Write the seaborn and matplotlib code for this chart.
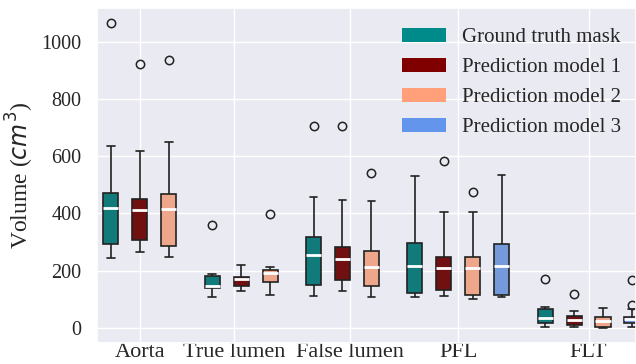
import numpy as np
import pandas as pd
import seaborn as sns
import matplotlib.pyplot as plt
from matplotlib.patches import Patch

# ---------------- data ----------------
regions = ["Aorta", "True lumen", "False lumen", "PFL", "FLT"]
models = ["Ground truth mask", "Prediction model 1", "Prediction model 2", "Prediction model 3"]
colors = ["#008B8B", "#800000", "#FFA07A", "#6495ED"]

# volumes (cm^3) per region, one list per model
aorta_gt = [244, 270, 293, 360, 418, 440, 471, 634, 1064]
aorta_m1 = [264, 285, 307, 370, 411, 430, 449, 618, 922]
aorta_m2 = [247, 265, 287, 350, 414, 440, 466, 648, 936]

true_gt = [109, 125, 139, 143, 146, 165, 180, 188, 359]
true_m1 = [127, 138, 147, 160, 170, 175, 179, 200, 220]
true_m2 = [116, 140, 159, 175, 190, 196, 202, 214, 398]

false_gt = [111, 130, 149, 200, 254, 290, 316, 458, 704]
false_m1 = [129, 150, 166, 200, 239, 260, 283, 448, 704]
false_m2 = [108, 125, 145, 180, 214, 240, 269, 444, 539]

pfl_gt = [107, 115, 121, 170, 217, 260, 295, 420, 532]
pfl_m1 = [111, 120, 132, 170, 210, 230, 248, 404, 583]
pfl_m2 = [101, 108, 114, 160, 208, 230, 246, 404, 473]
pfl_m3 = [109, 112, 116, 170, 217, 260, 293, 420, 534]

flt_gt = [1, 8, 16, 25, 34, 50, 65, 74, 171]
flt_m1 = [1, 5, 9, 18, 28, 35, 42, 60, 117]
flt_m2 = [0, 1, 2, 12, 22, 30, 36, 50, 69]
flt_m3 = [1, 5, 10, 16, 22, 26, 30, 34, 37, 39, 65, 78, 167]

groups = [
    [aorta_gt, aorta_m1, aorta_m2],
    [true_gt, true_m1, true_m2],
    [false_gt, false_m1, false_m2],
    [pfl_gt, pfl_m1, pfl_m2, pfl_m3],
    [flt_gt, flt_m1, flt_m2, flt_m3],
]

# ---------------- layout ----------------
group_start = [0, 3.5, 7, 10.5, 15]
tick_pos = [1, 4.25, 8.25, 12, 16.5]

rows = []
for g, boxes in enumerate(groups):
    for m, vals in enumerate(boxes):
        for v in vals:
            rows.append({"pos": group_start[g] + m, "model": models[m], "value": v})
df = pd.DataFrame(rows)

sns.set_theme(style="darkgrid")
plt.rcParams['font.family'] = ['Liberation Serif', 'DejaVu Serif']
plt.rcParams['mathtext.fontset'] = 'dejavusans'

fig = plt.figure(figsize=(6.36, 3.64), dpi=100)
ax = fig.add_axes([97 / 636, 21 / 364, 539 / 636, 335 / 364])

sns.boxplot(
    data=df, x="pos", y="value", hue="model", hue_order=models,
    palette=dict(zip(models, colors)), native_scale=True, dodge=False,
    width=0.52, linecolor="#222222", linewidth=1.2, legend=False,
    medianprops=dict(color="white", linewidth=2),
    flierprops=dict(marker="o", markersize=6, markerfacecolor="none",
                    markeredgecolor="#222222", markeredgewidth=1.1),
    ax=ax,
)

ax.set_xticks(tick_pos)
ax.set_xticklabels(regions, fontsize=16)
ax.tick_params(axis="x", pad=0, length=0)
ax.tick_params(axis="y", labelsize=14.5, pad=11, length=0)
ax.set_xlim(-0.48, 18.14)
ax.set_xlabel("")
ax.set_ylabel("Volume ($cm^3$)", fontsize=17)

handles = [Patch(facecolor=c, edgecolor="none", label=m) for m, c in zip(models, colors)]
ax.legend(handles=handles, loc="upper right", bbox_to_anchor=(1.0, 0.985),
          frameon=False, fontsize=15,
          handlelength=2.1, handleheight=0.7, labelspacing=0.5,
          borderaxespad=0.3)

fig.savefig("out.png", dpi=100)
